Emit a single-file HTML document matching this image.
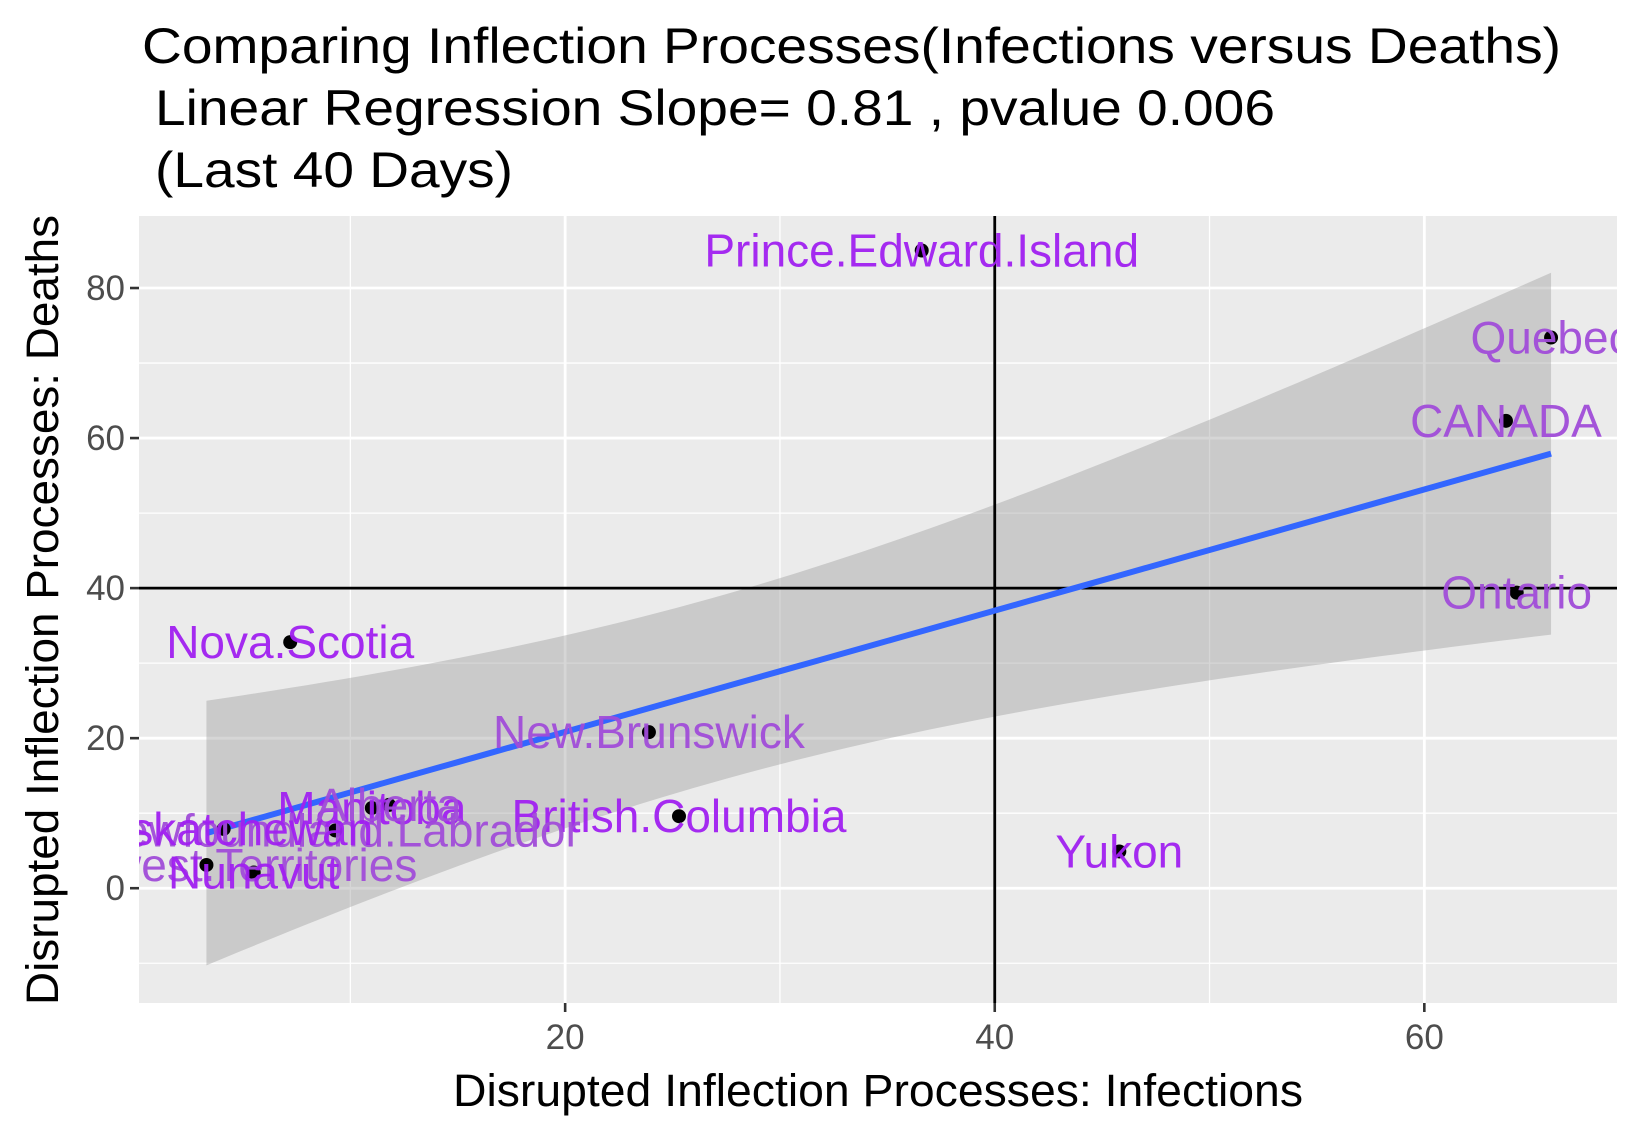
<!DOCTYPE html>
<html><head><meta charset="utf-8"><style>
html,body{margin:0;padding:0;background:#fff;}
svg{display:block;font-family:"Liberation Sans",Arial,sans-serif;}
</style></head><body>
<svg id="chart" width="1640" height="1137" viewBox="0 0 1640 1137">
<defs><clipPath id="pclip"><rect x="139" y="216" width="1478" height="787"/></clipPath></defs>
<g>
<text x="142" y="63" font-size="50" textLength="1419" lengthAdjust="spacingAndGlyphs" fill="#000">Comparing Inflection Processes(Infections versus Deaths)</text>
<text x="155" y="125" font-size="50" textLength="1120" lengthAdjust="spacingAndGlyphs" fill="#000">Linear Regression Slope= 0.81 , pvalue 0.006</text>
<text x="155" y="187" font-size="50" textLength="358" lengthAdjust="spacingAndGlyphs" fill="#000">(Last 40 Days)</text>
</g>
<rect x="139" y="216" width="1478" height="787" fill="#ebebeb"/>
<g id="grid"></g>
<g id="band" clip-path="url(#pclip)"></g>
<g id="reflines" clip-path="url(#pclip)"></g>
<g id="fit" clip-path="url(#pclip)"></g>
<g id="points" clip-path="url(#pclip)"></g>
<g id="labels" clip-path="url(#pclip)"></g>
<g id="axes"></g>
<text x="878" y="1106" font-size="45" textLength="850" lengthAdjust="spacingAndGlyphs" text-anchor="middle" fill="#000">Disrupted Inflection Processes: Infections</text>
<text transform="translate(58,610) rotate(-90)" font-size="45" textLength="790" lengthAdjust="spacingAndGlyphs" text-anchor="middle" fill="#000">Disrupted Inflection Processes: Deaths</text>
</svg>
<script>
const names = ["Prince.Edward.Island","Quebec","CANADA","Ontario","Nova.Scotia","New.Brunswick","British.Columbia","Yukon","Manitoba","Alberta","Newfoundland.Labrador","Saskatchewan","Northwest.Territories","Nunavut"];
const infections = [36.6,65.9,63.8,64.3,7.2,23.9,25.3,45.8,11.0,11.8,9.3,4.1,3.3,5.5];
const deaths = [85.0,73.4,62.3,39.4,32.8,20.8,9.6,4.9,10.7,11.1,7.7,7.9,3.1,2.1];
const labelTone = ["v","l","l","l","v","l","v","v","v","l","l","v","l","v"];
const xTicks = [20,40,60];
const xMinor = [10,30,50];
const yTicks = [0,20,40,60,80];
const yMinor = [-10,10,30,50,70];
const refX = 40, refY = 40;

const X0=139,X1=1617,Y0=216,Y1=1003;
const xMin=0.16,xMax=68.97,yMin=-15.3,yMax=89.6;
const sx=v=>X0+(v-xMin)/(xMax-xMin)*(X1-X0);
const sy=v=>Y1-(v-yMin)/(yMax-yMin)*(Y1-Y0);
const NS="http://www.w3.org/2000/svg";
function mk(tag,attrs,parent){const e=document.createElementNS(NS,tag);for(const k in attrs)e.setAttribute(k,attrs[k]);parent.appendChild(e);return e;}
const grid=document.getElementById('grid');
xMinor.forEach(v=>{const l=mk('line',{x1:sx(v),x2:sx(v),y1:Y0,y2:Y1,stroke:'#fff','stroke-width':1.3},grid);

});
yMinor.forEach(v=>{const l=mk('line',{x1:X0,x2:X1,y1:sy(v),y2:sy(v),stroke:'#fff','stroke-width':1.3},grid);

});
xTicks.forEach(v=>{const l=mk('line',{x1:sx(v),x2:sx(v),y1:Y0,y2:Y1,stroke:'#fff','stroke-width':2.8},grid);

});
yTicks.forEach(v=>{const l=mk('line',{x1:X0,x2:X1,y1:sy(v),y2:sy(v),stroke:'#fff','stroke-width':2.8},grid);

});

const n=infections.length;
const mx=infections.reduce((a,b)=>a+b)/n, my=deaths.reduce((a,b)=>a+b)/n;
let sxx=0,sxy=0;for(let i=0;i<n;i++){sxx+=(infections[i]-mx)**2;sxy+=(infections[i]-mx)*(deaths[i]-my);}
const b=sxy/sxx,a=my-b*mx;
let sse=0;for(let i=0;i<n;i++){sse+=(deaths[i]-a-b*infections[i])**2;}
const sig=Math.sqrt(sse/(n-2)),t=2.179;
const lo=Math.min(...infections),hi=Math.max(...infections);
const up=[],dn=[],mid=[];
for(let k=0;k<=80;k++){const x=lo+(hi-lo)*k/80;const f=a+b*x;const h=t*sig*Math.sqrt(1/n+(x-mx)**2/sxx);
up.push([sx(x),sy(f+h)]);dn.push([sx(x),sy(f-h)]);mid.push([sx(x),sy(f)]);}
const bandPts=up.concat(dn.reverse()).map(p=>p.join(',')).join(' ');
const band=mk('polygon',{points:bandPts,fill:'#999','fill-opacity':0.4},document.getElementById('band'));



const rl=document.getElementById('reflines');
const vx=mk('line',{x1:sx(refX),x2:sx(refX),y1:Y0,y2:Y1,stroke:'#000','stroke-width':2.8},rl);


const hy=mk('line',{x1:X0,x2:X1,y1:sy(refY),y2:sy(refY),stroke:'#000','stroke-width':2.8},rl);



const fl=mk('polyline',{points:mid.map(p=>p.join(',')).join(' '),fill:'none',stroke:'#3366FF','stroke-width':6},document.getElementById('fit'));



const pg=document.getElementById('points'),lg=document.getElementById('labels');
for(let i=0;i<n;i++){
 const c=mk('circle',{cx:sx(infections[i]),cy:sy(deaths[i]),r:7,fill:'#000'},pg);
 
 
 const tx=mk('text',{x:sx(infections[i]),y:sy(deaths[i])+16,'font-size':46,'text-anchor':'middle',fill:labelTone[i]==='v'?'#A020F0':'#A04CD8','fill-opacity':0.95},lg);
 tx.textContent=names[i];
 
 
}

const ax=document.getElementById('axes');
xTicks.forEach(v=>{
 const tk=mk('line',{x1:sx(v),x2:sx(v),y1:Y1,y2:Y1+9,stroke:'#333','stroke-width':2.6},ax);
 
 
 const tl=mk('text',{x:sx(v),y:Y1+46,'font-size':35,'text-anchor':'middle',fill:'#4d4d4d'},ax);
 tl.textContent=v;
 
 
});
yTicks.forEach(v=>{
 const tk=mk('line',{x1:X0-9,x2:X0,y1:sy(v),y2:sy(v),stroke:'#333','stroke-width':2.6},ax);
 
 
 const tl=mk('text',{x:X0-14,y:sy(v)+12,'font-size':35,'text-anchor':'end',fill:'#4d4d4d'},ax);
 tl.textContent=v;
 
 
});
</script>
</body></html>
